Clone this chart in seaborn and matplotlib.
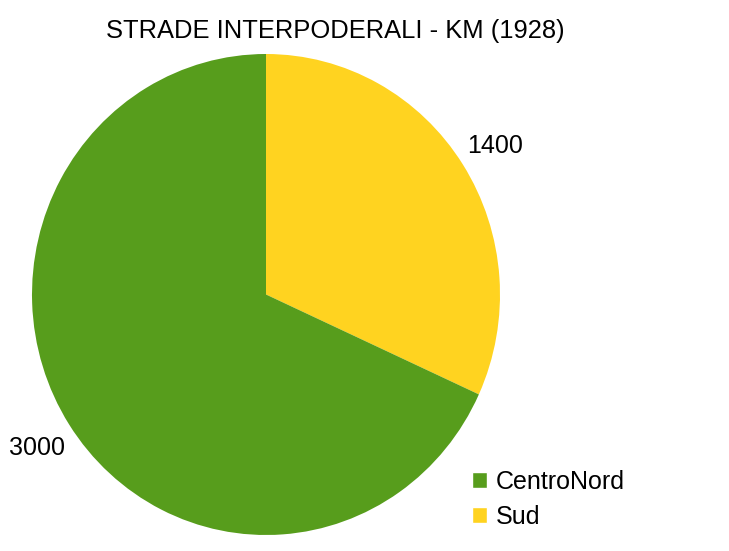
import matplotlib
matplotlib.use("Agg")
import matplotlib.pyplot as plt
import seaborn as sns
from matplotlib.patches import Patch

sns.set_theme(style="white")
plt.rcParams['font.family'] = ['Liberation Sans', 'DejaVu Sans']
plt.rcParams['text.color'] = 'black'

categories = ["Sud", "CentroNord"]
values = [1400, 3000]
colors = ["#FFD320", "#579D1C"]
title = "STRADE INTERPODERALI - KM (1928)"

FS = 18
fig = plt.figure(figsize=(7.29, 5.51), dpi=100)
ax = fig.add_axes([32/729, 16/551, 468/729, 481/551])
ax.pie(values, labels=[str(v) for v in values], colors=colors, startangle=90,
       counterclock=False, labeldistance=1.165, radius=1,
       textprops={'fontsize': FS, 'color': 'black'},
       wedgeprops={'linewidth': 0})
ax.set_xlim(-1, 1)
ax.set_ylim(-1, 1)
ax.set_aspect('auto')
for t in ax.texts:
    t.set_ha('center'); t.set_va('center_baseline')

fig.text(335.5/729, 1 - 38/551, title, ha='center', va='baseline', fontsize=18.4, color='black')

handles = [Patch(facecolor=colors[1], label=categories[1]),
           Patch(facecolor=colors[0], label=categories[0])]
fig.legend(handles=handles, loc='upper left', bbox_to_anchor=(472/729, 1 - 470/551),
           frameon=False, fontsize=FS, handlelength=0.6, handleheight=0.6,
           handletextpad=0.36, labelspacing=0.42, borderpad=0, borderaxespad=0)

fig.savefig("out.png", dpi=100)
